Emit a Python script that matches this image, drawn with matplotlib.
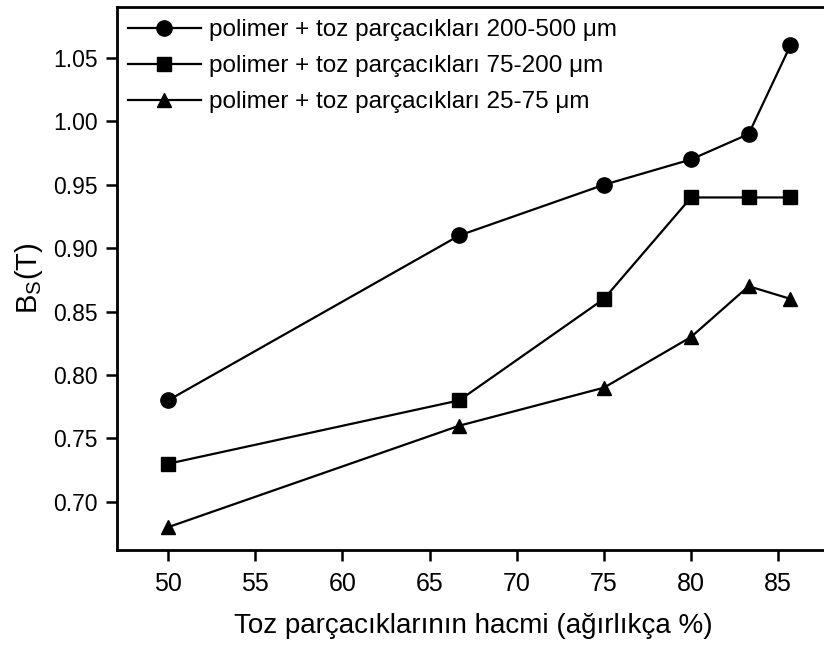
import numpy as np
import matplotlib
matplotlib.use('Agg')
import matplotlib.pyplot as plt

plt.rcParams['font.family'] = ['Liberation Sans', 'DejaVu Sans']

# hacim (ağırlıkça %)
hacim = [50, 66.7, 75, 80, 83.3, 85.7]

# Bs (T) degerleri
bs_200_500 = [0.78, 0.91, 0.95, 0.97, 0.99, 1.06]
bs_75_200 = [0.73, 0.78, 0.86, 0.94, 0.94, 0.94]
bs_25_75 = [0.68, 0.76, 0.79, 0.83, 0.87, 0.86]

etiketler = ['polimer + toz parçacıkları 200-500 μm',
             'polimer + toz parçacıkları 75-200 μm',
             'polimer + toz parçacıkları 25-75 μm']
xticks = [50, 55, 60, 65, 70, 75, 80, 85]
yticks = [0.70, 0.75, 0.80, 0.85, 0.90, 0.95, 1.00, 1.05]

fig = plt.figure(figsize=(8.24, 6.46), dpi=100)
ax = fig.add_axes([0.142, 0.1486, 0.866, 0.8406])

ax.plot(hacim, bs_200_500, '-o', color='black', lw=1.6, ms=11, label=etiketler[0])
ax.plot(hacim, bs_75_200, '-s', color='black', lw=1.6, ms=10, label=etiketler[1])
ax.plot(hacim, bs_25_75, '-^', color='black', lw=1.6, ms=10, label=etiketler[2])

ax.set_xlim(47.07, 88.0)
ax.set_ylim(0.662, 1.0902)
ax.set_xticks(xticks)
ax.set_yticks(yticks)
ax.set_yticklabels([f'{v:.2f}' for v in yticks])
ax.tick_params(direction='out', length=8, width=1.8, labelsize=16.5, pad=6)
ax.tick_params(axis='x', pad=8)
for lbl in ax.get_xticklabels():
    lbl.set_family(['Liberation Sans Narrow', 'Liberation Sans'])
    lbl.set_fontsize(18)
for s in ax.spines.values():
    s.set_linewidth(2)

ax.set_xlabel('Toz parçacıklarının hacmi (ağırlıkça %)', fontsize=20, labelpad=12)
ax.set_ylabel(r'B$_\mathregular{S}$(T)', fontsize=21, labelpad=6)

ax.legend(loc='upper left', frameon=False, fontsize=17.5, handlelength=3.0,
          labelspacing=0.58, handletextpad=0.33, borderaxespad=0.4, borderpad=0.1,
          bbox_to_anchor=(-0.002, 1.0))

fig.savefig('out.png', dpi=100)
